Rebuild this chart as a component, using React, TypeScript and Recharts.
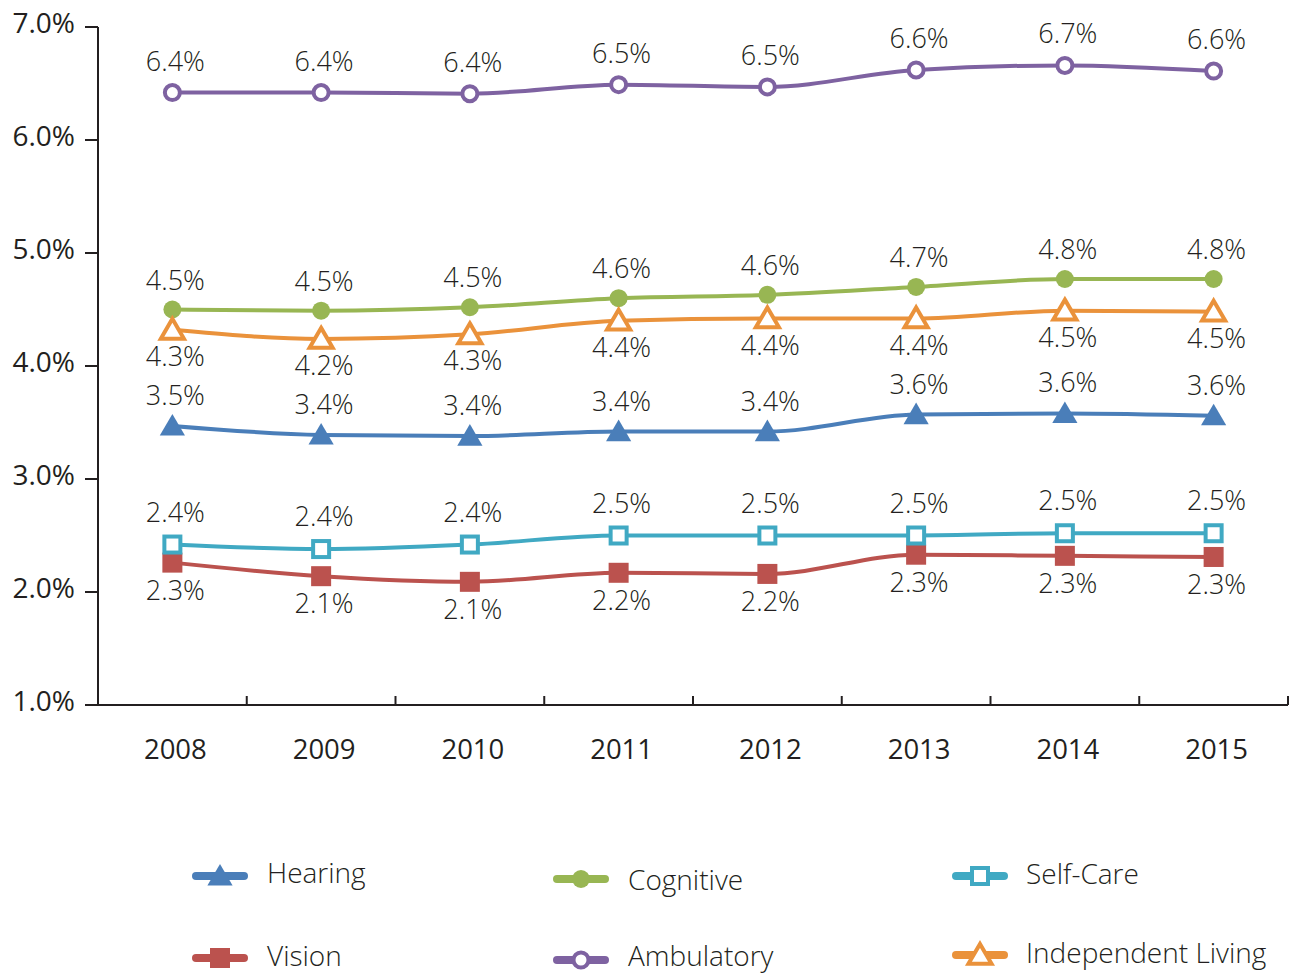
import React from "react";
import { LineChart, Line, XAxis, YAxis, LabelList } from "recharts";

const years = ["2008", "2009", "2010", "2011", "2012", "2013", "2014", "2015"];
const hearing = [3.47, 3.39, 3.38, 3.42, 3.42, 3.57, 3.58, 3.56];
const vision = [2.26, 2.14, 2.09, 2.17, 2.16, 2.33, 2.32, 2.31];
const cognitive = [4.5, 4.49, 4.52, 4.6, 4.63, 4.7, 4.77, 4.77];
const ambulatory = [6.42, 6.42, 6.41, 6.49, 6.47, 6.62, 6.66, 6.61];
const selfCare = [2.42, 2.38, 2.42, 2.5, 2.5, 2.5, 2.52, 2.52];
const independent = [4.32, 4.24, 4.28, 4.4, 4.42, 4.42, 4.49, 4.48];

const hearingLabels = ["3.5%", "3.4%", "3.4%", "3.4%", "3.4%", "3.6%", "3.6%", "3.6%"];
const visionLabels = ["2.3%", "2.1%", "2.1%", "2.2%", "2.2%", "2.3%", "2.3%", "2.3%"];
const cognitiveLabels = ["4.5%", "4.5%", "4.5%", "4.6%", "4.6%", "4.7%", "4.8%", "4.8%"];
const ambulatoryLabels = ["6.4%", "6.4%", "6.4%", "6.5%", "6.5%", "6.6%", "6.7%", "6.6%"];
const selfCareLabels = ["2.4%", "2.4%", "2.4%", "2.5%", "2.5%", "2.5%", "2.5%", "2.5%"];
const independentLabels = ["4.3%", "4.2%", "4.3%", "4.4%", "4.4%", "4.4%", "4.5%", "4.5%"];

const yTicks = [1, 2, 3, 4, 5, 6, 7];

const C = {
  hearing: "#4a7eb9",
  vision: "#bb524e",
  cognitive: "#98b653",
  ambulatory: "#7e62a1",
  selfCare: "#40a9c3",
  independent: "#ea923b",
};
const INK = "#231f20";
const FONT = "'Open Sans', 'Noto Sans', sans-serif";

const data = years.map((year, i) => ({
  year,
  hearing: hearing[i],
  vision: vision[i],
  cognitive: cognitive[i],
  ambulatory: ambulatory[i],
  selfCare: selfCare[i],
  independent: independent[i],
}));

const W = 1295;
const H = 975;
const margin = { top: 27, right: 7, bottom: 200, left: 0 };
const yAxisW = 98;
const plotW = W - margin.right - margin.left - yAxisW;
const half = plotW / years.length / 2;

type Shape = "triangle" | "square" | "circle";

function marker(shape: Shape, color: string, hollow: boolean, cx: number, cy: number, key?: any) {
  const fill = hollow ? "#fff" : color;
  const sw = hollow ? 4 : 0;
  if (shape === "triangle") {
    const s = hollow ? 11 : 12;
    const pts = `${cx},${cy - s} ${cx + s * 1.05},${cy + s * 0.8} ${cx - s * 1.05},${cy + s * 0.8}`;
    return <polygon key={key} points={pts} fill={fill} stroke={color} strokeWidth={sw} strokeLinejoin="miter" />;
  }
  if (shape === "square") {
    const s = hollow ? 8 : 10;
    return <rect key={key} x={cx - s} y={cy - s} width={s * 2} height={s * 2} fill={fill} stroke={color} strokeWidth={sw} />;
  }
  return <circle key={key} cx={cx} cy={cy} r={hollow ? 7.5 : 9} fill={fill} stroke={color} strokeWidth={sw} />;
}

const makeDot = (shape: Shape, color: string, hollow: boolean) => (p: any) =>
  marker(shape, color, hollow, p.cx, p.cy, p.index);

const makeLabel = (texts: string[], dy: number) => (p: any) => (
  <text
    key={p.index}
    x={p.x + 3}
    y={p.y + dy}
    textAnchor="middle"
    fontFamily={FONT}
    fontWeight={300}
    fontSize={27}
    fill={INK}
  >
    {texts[p.index]}
  </text>
);

const XTick = (p: any) => (
  <g>
    <line x1={p.x + half} x2={p.x + half} y1={p.y - 9} y2={p.y} stroke={INK} strokeWidth={2} />
    <text x={p.x + 3} y={p.y + 54} textAnchor="middle" fontFamily={FONT} fontSize={27.5} fill={INK}>
      {p.payload.value}
    </text>
  </g>
);

const YTick = (p: any) => (
  <text x={p.x} y={p.y + 6} textAnchor="end" fontFamily={FONT} fontSize={28} fill={INK}>
    {Number(p.payload.value).toFixed(1)}%
  </text>
);

const series = [
  { key: "hearing", name: "Hearing", color: C.hearing, shape: "triangle" as Shape, hollow: false, labels: hearingLabels, dy: -21, lx: 192, ly: 876, tx: 267, ty: 874 },
  { key: "vision", name: "Vision", color: C.vision, shape: "square" as Shape, hollow: false, labels: visionLabels, dy: 37, lx: 192, ly: 958, tx: 267, ty: 957 },
  { key: "cognitive", name: "Cognitive", color: C.cognitive, shape: "circle" as Shape, hollow: false, labels: cognitiveLabels, dy: -20, lx: 553, ly: 879, tx: 628, ty: 881 },
  { key: "ambulatory", name: "Ambulatory", color: C.ambulatory, shape: "circle" as Shape, hollow: true, labels: ambulatoryLabels, dy: -22, lx: 553, ly: 960, tx: 628, ty: 957 },
  { key: "selfCare", name: "Self-Care", color: C.selfCare, shape: "square" as Shape, hollow: true, labels: selfCareLabels, dy: -23, lx: 952, ly: 876, tx: 1026, ty: 875 },
  { key: "independent", name: "Independent Living", color: C.independent, shape: "triangle" as Shape, hollow: true, labels: independentLabels, dy: 36, lx: 952, ly: 955, tx: 1026, ty: 954 },
];

export default function App() {
  return (
    <div style={{ position: "absolute", left: 0, top: 0, width: W, height: H, background: "#fff" }}>
      <LineChart width={W} height={H} data={data} margin={margin}>
        <XAxis
          dataKey="year"
          height={70}
          padding={{ left: half, right: half }}
          axisLine={{ stroke: INK, strokeWidth: 2 }}
          tickLine={false}
          tickSize={0}
          tickMargin={0}
          tick={<XTick />}
          interval={0}
        />
        <YAxis
          width={yAxisW}
          domain={[1, 7]}
          ticks={yTicks}
          type="number"
          axisLine={{ stroke: INK, strokeWidth: 2 }}
          tickLine={{ stroke: INK, strokeWidth: 2 }}
          tickSize={13}
          tickMargin={10}
          tick={<YTick />}
          interval={0}
        />
        {series.map((s) => (
          <Line
            key={s.key}
            dataKey={s.key}
            name={s.name}
            type="monotone"
            stroke={s.color}
            strokeWidth={4}
            dot={makeDot(s.shape, s.color, s.hollow)}
            activeDot={false}
            isAnimationActive={false}
          >
            <LabelList dataKey={s.key} content={makeLabel(s.labels, s.dy)} />
          </Line>
        ))}
      </LineChart>
      <svg width={W} height={H} style={{ position: "absolute", left: 0, top: 0, pointerEvents: "none" }}>
        {series.map((s) => (
          <g key={s.key}>
            <line x1={s.lx + 4} x2={s.lx + 52} y1={s.ly} y2={s.ly} stroke={s.color} strokeWidth={8} strokeLinecap="round" />
            {marker(s.shape, s.color, s.hollow, s.lx + 28, s.ly)}
            <text x={s.tx} y={s.ty + 9} fontFamily={FONT} fontWeight={300} fontSize={28} fill={INK}>
              {s.name}
            </text>
          </g>
        ))}
      </svg>
    </div>
  );
}
